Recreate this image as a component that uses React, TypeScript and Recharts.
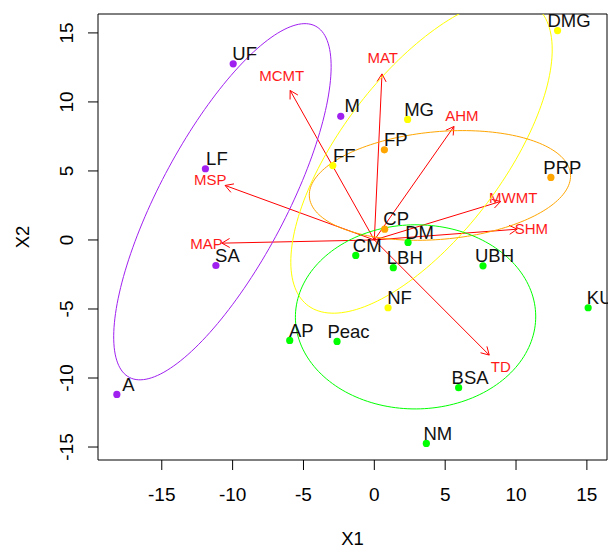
import React from 'react';
import { ScatterChart, XAxis, YAxis, Scatter, ReferenceArea, ReferenceLine } from 'recharts';

// ---- data ----
const siteNames = ['UF', 'LF', 'SA', 'M', 'A', 'DMG', 'MG', 'FF', 'NF', 'FP', 'PRP', 'CP', 'DM', 'CM', 'LBH', 'UBH', 'AP', 'Peac', 'BSA', 'NM', 'KU'];
const siteX = [-9.96, -11.92, -11.18, -2.37, -18.17, 12.93, 2.35, -2.93, 0.97, 0.71, 12.46, 0.73, 2.38, -1.31, 1.34, 7.67, -5.97, -2.63, 5.95, 3.67, 15.09];
const siteY = [12.76, 5.16, -1.85, 8.96, -11.19, 15.17, 8.73, 5.39, -4.91, 6.53, 4.53, 0.78, -0.18, -1.12, -2.01, -1.87, -7.28, -7.35, -10.7, -14.74, -4.91];
const siteGroup = [0, 0, 0, 0, 0, 1, 1, 1, 1, 2, 2, 2, 3, 3, 3, 3, 3, 3, 3, 3, 3];

const groupColors = ['#A020F0', '#FFFF00', '#FFA500', '#00FF00'];
const ellipseCX = [-10.72, 3.33, 4.63, 2.91];
const ellipseCY = [2.77, 6.1, 3.95, -5.57];
const ellipseA = [14.32, 13.49, 9.25, 8.48];
const ellipseB = [4.5, 5.76, 3.9, 6.67];
const ellipseAngle = [62.8, 53.8, 5.2, 0.4];

const varNames = ['MAT', 'MCMT', 'MSP', 'MAP', 'AHM', 'MWMT', 'SHM', 'TD'];
const varX = [0.54, -5.94, -10.53, -10.76, 5.62, 8.91, 10.08, 8.11];
const varY = [12.03, 10.83, 3.95, -0.23, 8.22, 2.79, 0.78, -8.34];

const xTicks = [-15, -10, -5, 0, 5, 10, 15];
const yTicks = [-15, -10, -5, 0, 5, 10, 15];
const xDomain: [number, number] = [-19.5, 16.42];
const yDomain: [number, number] = [-15.94, 16.37];

const FONT = '"Liberation Sans", Arial, Helvetica, sans-serif';

// ---- derived tables ----
const groupData = groupColors.map((_, g) =>
  siteNames
    .map((name, i) => ({ name, x: siteX[i], y: siteY[i], g: siteGroup[i] }))
    .filter((d) => d.g === g)
);

function ellipseOutline(i: number) {
  const pts: { x: number; y: number }[] = [];
  const th = (ellipseAngle[i] * Math.PI) / 180;
  const n = 180;
  for (let k = 0; k <= n; k++) {
    const t = (2 * Math.PI * k) / n;
    const u = ellipseA[i] * Math.cos(t);
    const v = ellipseB[i] * Math.sin(t);
    pts.push({
      x: ellipseCX[i] + u * Math.cos(th) - v * Math.sin(th),
      y: ellipseCY[i] + u * Math.sin(th) + v * Math.cos(th),
    });
  }
  return pts;
}

const XTick = (p: any) => (
  <text x={p.x} y={p.y + 28.7} textAnchor="middle" fontSize={19} fill="#000" fontFamily={FONT}>
    {p.payload.value}
  </text>
);

const YTick = (p: any) => {
  const bx = p.x - 12.7;
  return (
    <text
      x={bx}
      y={p.y}
      transform={`rotate(-90 ${bx} ${p.y})`}
      textAnchor="middle"
      fontSize={19}
      fill="#000"
      fontFamily={FONT}
    >
      {p.payload.value}
    </text>
  );
};

const makePointShape = (color: string) => (props: any) => {
  const { cx, cy, payload } = props;
  if (cx == null || cy == null) return <g />;
  return (
    <g>
      <circle cx={cx} cy={cy} r={3.6} fill={color} />
      <text x={cx + 11.5} y={cy - 3.8} textAnchor="middle" fontSize={18.5} fill="#111" fontFamily={FONT}>
        {payload.name}
      </text>
    </g>
  );
};

const makeArrowShape = (label: string) => (props: any) => {
  const { x1, y1, x2, y2 } = props;
  if ([x1, y1, x2, y2].some((v) => v == null || isNaN(v))) return <g />;
  const ang = Math.atan2(y2 - y1, x2 - x1);
  const L = 9;
  const a = Math.PI / 6;
  const hx1 = x2 - L * Math.cos(ang - a);
  const hy1 = y2 - L * Math.sin(ang - a);
  const hx2 = x2 - L * Math.cos(ang + a);
  const hy2 = y2 - L * Math.sin(ang + a);
  const lx = x1 + 1.1 * (x2 - x1);
  const ly = y1 + 1.1 * (y2 - y1);
  return (
    <g>
      <line x1={x1} y1={y1} x2={x2} y2={y2} stroke="#FF0000" strokeWidth={1} />
      <path d={`M${hx1},${hy1}L${x2},${y2}L${hx2},${hy2}`} stroke="#FF0000" strokeWidth={1} fill="none" />
      <text x={lx} y={ly + 5.4} textAnchor="middle" fontSize={15} fill="#FF1A1A" fontFamily={FONT}>
        {label}
      </text>
    </g>
  );
};

export default function App() {
  return (
    <div style={{ width: 608, height: 546, fontFamily: FONT }}>
      <style>{'html { overflow: hidden; } body { margin: 0; }'}</style>
      <ScatterChart width={608} height={546} margin={{ top: 14, right: 1, bottom: 0, left: 8 }}>
        <XAxis
          type="number"
          dataKey="x"
          domain={xDomain}
          ticks={xTicks}
          interval={0}
          height={86}
          tickSize={10}
          axisLine={false}
          tickLine={{ stroke: '#000' }}
          tick={XTick}
          label={{
            content: (lp: any) => {
              const vb = lp && lp.viewBox ? lp.viewBox : { x: 98, y: 460, width: 509, height: 86 };
              return (
                <text x={vb.x + vb.width / 2} y={vb.y + 84.5} textAnchor="middle" fontSize={18.5} fill="#000" fontFamily={FONT}>
                  X1
                </text>
              );
            },
          }}
        />
        <YAxis yAxisId="ell" type="number" dataKey="y" domain={yDomain} allowDataOverflow hide width={0} />
        <YAxis
          yAxisId="main"
          type="number"
          dataKey="y"
          domain={yDomain}
          ticks={yTicks}
          interval={0}
          width={90}
          tickSize={10}
          axisLine={false}
          tickLine={{ stroke: '#000' }}
          tick={YTick}
          label={{
            content: (lp: any) => {
              const vb = lp && lp.viewBox ? lp.viewBox : { x: 8, y: 14, width: 90, height: 446 };
              const bx = vb.x + 21.3;
              const cy = vb.y + vb.height / 2;
              return (
                <text x={bx} y={cy} transform={`rotate(-90 ${bx} ${cy})`} textAnchor="middle" fontSize={18.5} fill="#000" fontFamily={FONT}>
                  X2
                </text>
              );
            },
          }}
        />
        {groupColors.map((c, g) => (
          <Scatter
            key={`ell-${g}`}
            yAxisId="ell"
            data={ellipseOutline(g)}
            line={{ stroke: c, strokeWidth: 1 }}
            lineType="joint"
            shape={() => <g />}
            isAnimationActive={false}
          />
        ))}
        {varNames.map((name, i) => (
          <ReferenceLine
            key={`arr-${name}`}
            yAxisId="main"
            segment={[
              { x: 0, y: 0 },
              { x: varX[i], y: varY[i] },
            ]}
            stroke="#FF0000"
            shape={makeArrowShape(name)}
          />
        ))}
        {groupData.map((d, g) => (
          <Scatter
            key={`pts-${g}`}
            yAxisId="main"
            data={d}
            shape={makePointShape(groupColors[g])}
            isAnimationActive={false}
          />
        ))}
        <ReferenceArea
          yAxisId="main"
          x1={xDomain[0]}
          x2={xDomain[1]}
          y1={yDomain[0]}
          y2={yDomain[1]}
          fill="none"
          fillOpacity={0}
          stroke="#000"
          strokeWidth={1}
          strokeOpacity={1}
        />
      </ScatterChart>
    </div>
  );
}
